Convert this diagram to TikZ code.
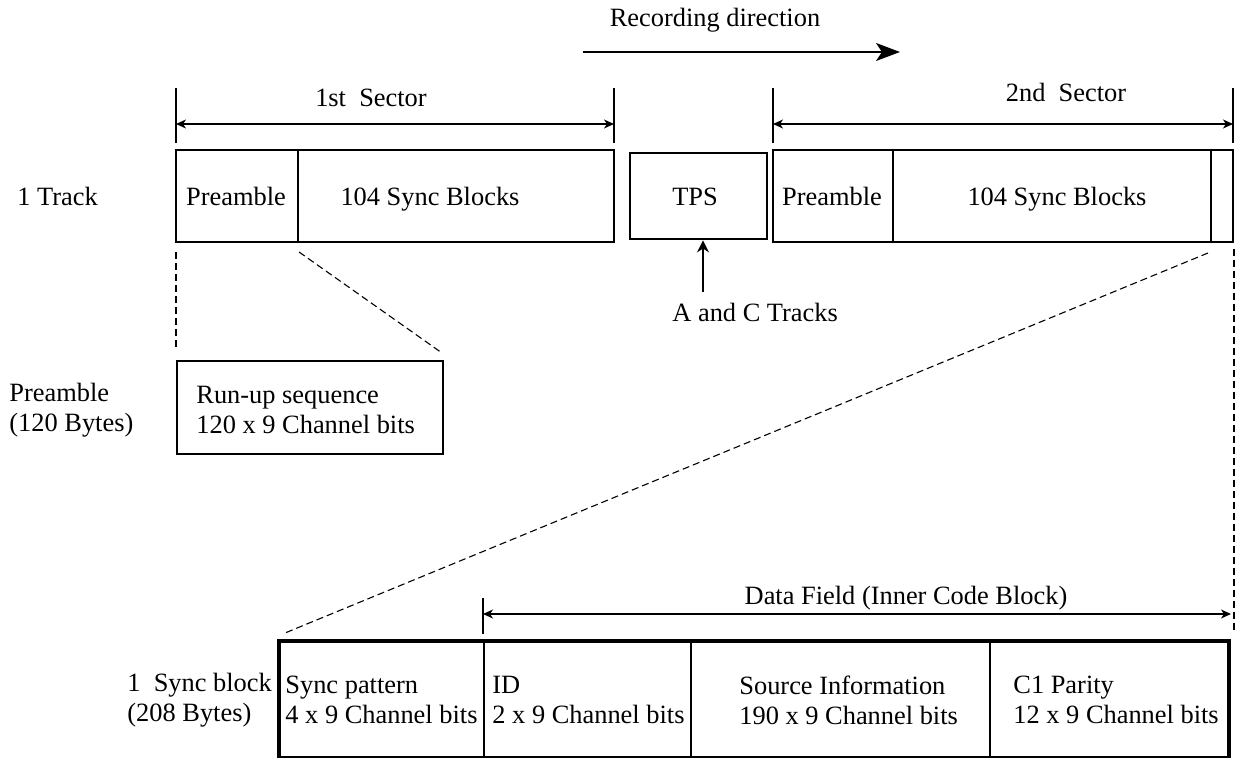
\documentclass[tikz,border=0pt]{standalone}
\usepackage{fontspec}
\setmainfont{Liberation Serif}
\usetikzlibrary{arrows.meta,fit}
\begin{document}
\begin{tikzpicture}[x=0.5pt,y=-0.5pt,
  font=\fontsize{13.2}{15}\selectfont,
  box/.style={draw, line width=1.45pt, inner sep=0pt},
  cell/.style={draw, line width=1.15pt, inner sep=0pt},
  txt/.style={inner sep=0pt},
  ltxt/.style={inner sep=0pt, align=left, anchor=west},
  tick/.style={line width=0.6pt},
  dim/.style={line width=0.6pt, {Stealth[length=5pt,width=4.5pt,inset=1.5pt]}-{Stealth[length=5pt,width=4.5pt,inset=1.5pt]}},
  dashline/.style={line width=0.55pt, dash pattern=on 3.5pt off 2pt},
]
\useasboundingbox (0,0) rectangle (1239,758);

% recording direction
\node[txt, anchor=base] (rec) at (715,27) {Recording direction};
\coordinate (recA) at (583,52);
\coordinate (recB) at (900,52);
\draw[line width=0.8pt, -{Stealth[length=12pt,width=9pt,inset=3pt]}] (recA) -- (recB);

% track 1
\node[box, fit={(176,150) (298,242)}] (p1) {};
\node[box, fit={(298,150) (614,242)}] (s1) {};
\node[txt, anchor=base] (p1t) at (236,206) {Preamble};
\node[txt, anchor=base] (s1t) at (430,206) {104 Sync Blocks};

% TPS
\node[box, fit={(630,153) (767,239)}] (tps) {};
\node[txt, anchor=base] (tpst) at (695,206) {TPS};

% track 2
\node[box, fit={(773,150) (893,242)}] (p2) {};
\node[box, fit={(893,150) (1211,242)}] (s2) {};
\node[box, fit={(1211,150) (1233,242)}] (e2) {};
\node[txt, anchor=base] (p2t) at (832,206) {Preamble};
\node[txt, anchor=base] (s2t) at (1057,206) {104 Sync Blocks};

\node[txt, anchor=base west] (track) at (17,206) {1 Track};

% 1st sector dimension
\coordinate (d1a) at (176,88);  \coordinate (d1b) at (176,143);
\coordinate (d1c) at (614,88);  \coordinate (d1d) at (614,143);
\coordinate (d1l) at (176,124); \coordinate (d1r) at (614,124);
\draw[tick] (d1a) -- (d1b);
\draw[tick] (d1c) -- (d1d);
\draw[dim] (d1l) -- (d1r);
\node[txt, anchor=base] (sec1) at (371,107) {1st\ \ Sector};

% 2nd sector dimension
\coordinate (d2a) at (773,88);  \coordinate (d2b) at (773,143);
\coordinate (d2c) at (1233,88); \coordinate (d2d) at (1233,143);
\coordinate (d2l) at (773,124); \coordinate (d2r) at (1233,124);
\draw[tick] (d2a) -- (d2b);
\draw[tick] (d2c) -- (d2d);
\draw[dim] (d2l) -- (d2r);
\node[txt, anchor=base] (sec2) at (1066,102) {2nd\ \ Sector};

% A and C tracks
\node[txt, anchor=base west] (ac) at (672,322) {A and C Tracks};
\coordinate (acA) at (703,292);
\draw[line width=0.6pt, -{Stealth[length=6pt,width=6pt,inset=2pt]}] (acA) -- (tps.south -| acA);

% preamble detail
\node[box, fit={(177,361) (443,454)}] (run) {};
\node[ltxt] (runt) at (196,410) {Run-up sequence\\120 x 9 Channel bits};
\node[ltxt] (prel) at (9,410) {Preamble\\(120 Bytes)};
\coordinate (pa) at (176,252); \coordinate (pb) at (176,347);
\coordinate (pc) at (299,252); \coordinate (pd) at (442,353);
\draw[dashline] (pa) -- (pb);
\draw[dashline] (pc) -- (pd);

% sync block detail
\node[cell, fit={(280,642) (484,757)}] (c1) {};
\node[cell, fit={(484,642) (691,757)}] (c2) {};
\node[cell, fit={(691,642) (990,757)}] (c3) {};
\node[cell, fit={(990,642) (1228,757)}] (c4) {};
\draw[line width=1.45pt] (c1.south west) -- (c1.north west) -- (c4.north east) -- (c4.south east);
\node[ltxt] (c1t) at (285,700) {Sync pattern\\4 x 9 Channel bits};
\node[ltxt] (c2t) at (492,700) {ID\\2 x 9 Channel bits};
\node[ltxt] (c3t) at (739,700) {Source Information\\190 x 9 Channel bits};
\node[ltxt] (c4t) at (1013,700) {C1 Parity\\12 x 9 Channel bits};
\node[ltxt] (sbl) at (127,700) {1\ \ Sync block\\(208 Bytes)};

\coordinate (sa) at (1208,253); \coordinate (sb) at (285,633);
\coordinate (sc) at (1234,249); \coordinate (sd) at (1234,633);
\draw[dashline] (sa) -- (sb);
\draw[dashline] (sc) -- (sd);

% data field dimension
\coordinate (dfa) at (483,598); \coordinate (dfb) at (483,634);
\coordinate (dfl) at (483,614); \coordinate (dfr) at (1231,614);
\draw[tick] (dfa) -- (dfb);
\draw[dim] (dfl) -- (dfr);
\node[txt, anchor=base] (df) at (906,605) {Data Field (Inner Code Block)};
\end{tikzpicture}
\end{document}
